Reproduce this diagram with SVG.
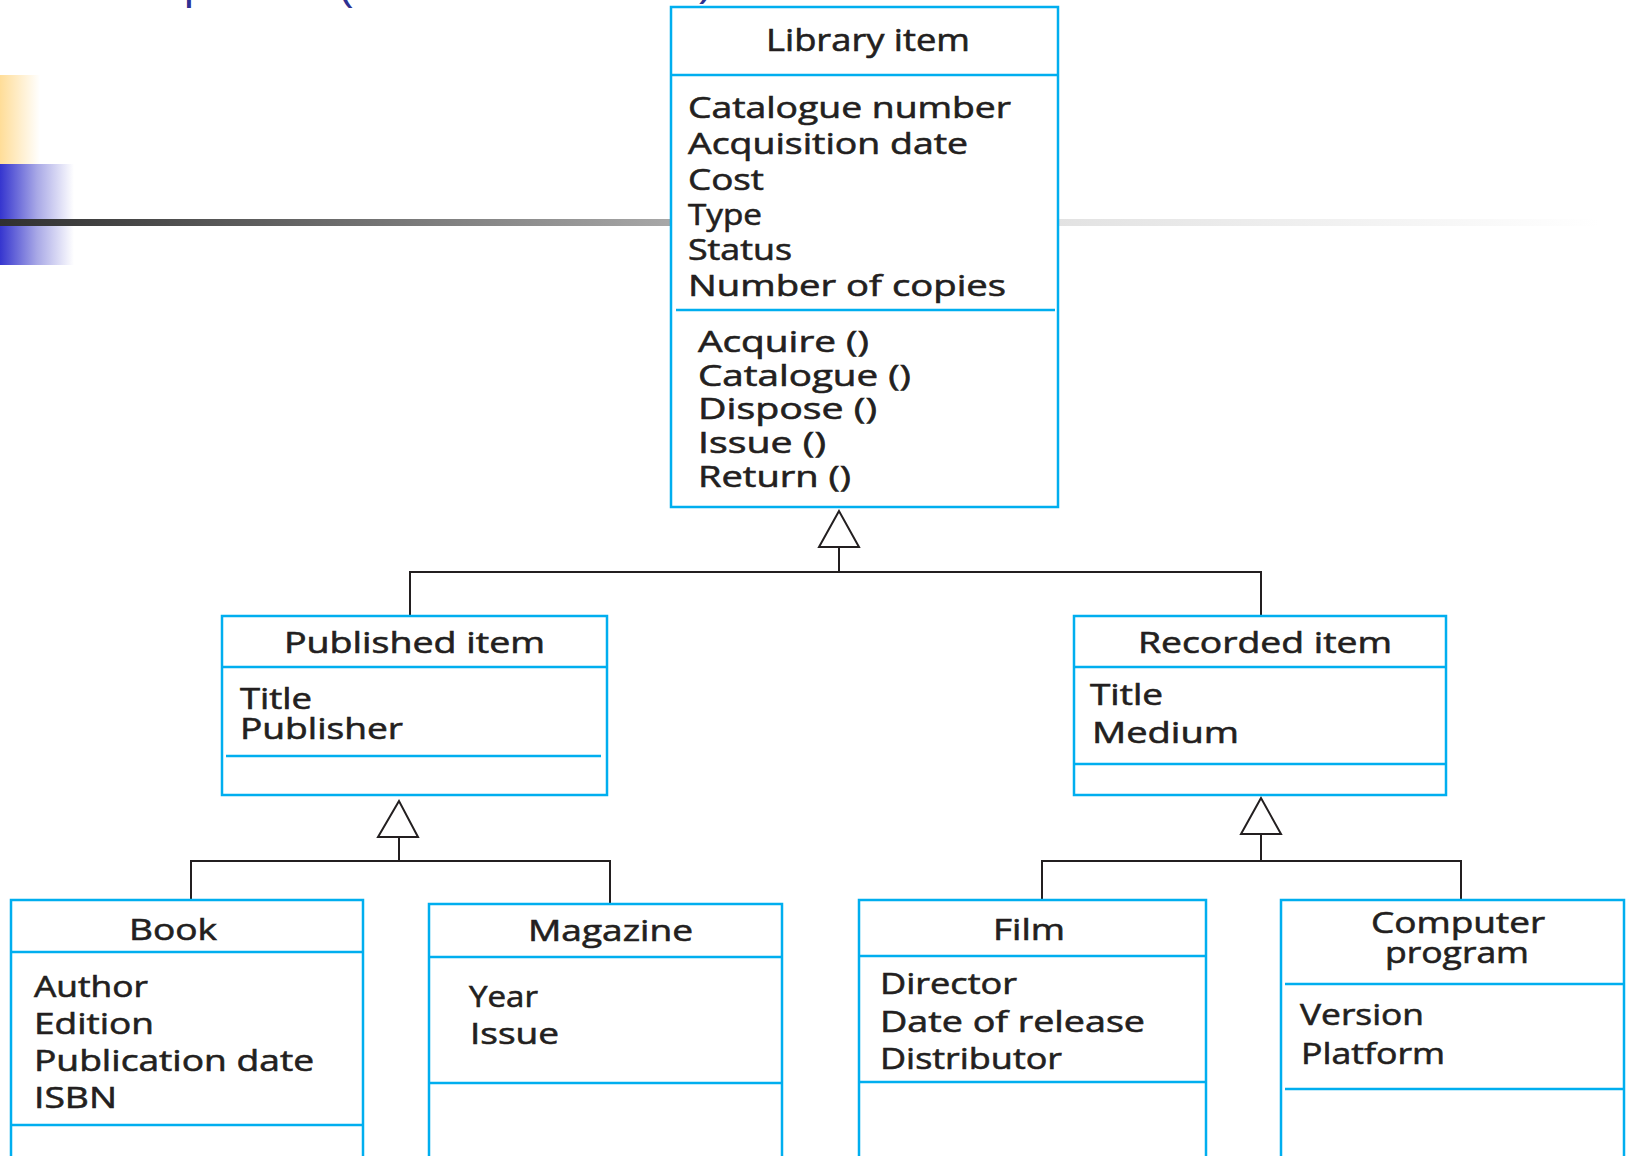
<svg xmlns="http://www.w3.org/2000/svg" width="1629" height="1156" viewBox="0 0 1629 1156">
<defs>
<linearGradient id="gy" x1="0" y1="0" x2="1" y2="0"><stop offset="0" stop-color="#FFDD98"/><stop offset="1" stop-color="#FFFFFF"/></linearGradient>
<linearGradient id="gb" x1="0" y1="0" x2="1" y2="0"><stop offset="0" stop-color="#3535CF"/><stop offset="0.5" stop-color="#A8A8E6"/><stop offset="1" stop-color="#FFFFFF"/></linearGradient>
<linearGradient id="gbar" gradientUnits="userSpaceOnUse" x1="0" y1="0" x2="1600" y2="0"><stop offset="0" stop-color="#303030"/><stop offset="0.42" stop-color="#A8A8A8"/><stop offset="0.66" stop-color="#E2E2E2"/><stop offset="1" stop-color="#FFFFFF"/></linearGradient>
<style>
.box{fill:#fff;stroke:#00AEEF;stroke-width:2.5}
.div{stroke:#00AEEF;stroke-width:2.5;fill:none}
.t{font-family:"Open Sans","Noto Sans","Liberation Sans",sans-serif;font-size:30px;fill:#231F20;stroke:#231F20;stroke-width:0.6}
.h{font-size:31px}
.con{stroke:#231F20;stroke-width:2;fill:none}
.tri{stroke:#231F20;stroke-width:2;fill:#fff}
.ttl{font-family:"Liberation Sans",Arial,sans-serif;font-size:44px;fill:#2E3192}
</style>
</defs>
<rect width="1629" height="1156" fill="#fff"/>
<g id="background">
<rect x="0" y="75" width="40" height="89" fill="url(#gy)"/>
<rect x="0" y="164" width="74" height="101" fill="url(#gb)"/>
<rect x="0" y="219" width="1600" height="7" fill="url(#gbar)"/>
<text class="ttl" x="184" y="-1">p</text>
<text class="ttl" x="338" y="-1">(</text>
<text class="ttl" x="699" y="-5">)</text>
</g>
<g id="connectors">
<polygon class="tri" points="839,511 819,547 859,547"/>
<path class="con" d="M839,547V572M410,616V572H1261V616"/>
<polygon class="tri" points="399,801 378,837 418,837"/>
<path class="con" d="M399,837V861M191,900V861H610V904"/>
<polygon class="tri" points="1261,798 1241,834 1281,834"/>
<path class="con" d="M1261,834V861M1042,900V861H1461V900"/>
</g>
<g id="library-item">
<rect class="box" x="671" y="7" width="387" height="500"/>
<path class="div" d="M671,75H1058M676,310H1055"/>
<text class="t h" x="766" y="51" textLength="204" lengthAdjust="spacingAndGlyphs">Library item</text>
<text class="t" x="688" y="118" textLength="323" lengthAdjust="spacingAndGlyphs">Catalogue number</text>
<text class="t" x="688" y="154" textLength="280" lengthAdjust="spacingAndGlyphs">Acquisition date</text>
<text class="t" x="688" y="190" textLength="76" lengthAdjust="spacingAndGlyphs">Cost</text>
<text class="t" x="688" y="225" textLength="74" lengthAdjust="spacingAndGlyphs">Type</text>
<text class="t" x="688" y="260" textLength="104" lengthAdjust="spacingAndGlyphs">Status</text>
<text class="t" x="688" y="296" textLength="318" lengthAdjust="spacingAndGlyphs">Number of copies</text>
<text class="t" x="698" y="352" textLength="171" lengthAdjust="spacingAndGlyphs">Acquire ()</text>
<text class="t" x="698" y="386" textLength="213" lengthAdjust="spacingAndGlyphs">Catalogue ()</text>
<text class="t" x="698" y="419" textLength="179" lengthAdjust="spacingAndGlyphs">Dispose ()</text>
<text class="t" x="698" y="453" textLength="128" lengthAdjust="spacingAndGlyphs">Issue ()</text>
<text class="t" x="698" y="487" textLength="153" lengthAdjust="spacingAndGlyphs">Return ()</text>
</g>
<g id="published-item">
<rect class="box" x="222" y="616" width="385" height="179"/>
<path class="div" d="M222,667H607M226,756H601"/>
<text class="t" x="284" y="653" textLength="261" lengthAdjust="spacingAndGlyphs">Published item</text>
<text class="t" x="240" y="709" textLength="72" lengthAdjust="spacingAndGlyphs">Title</text>
<text class="t" x="240" y="739" textLength="163" lengthAdjust="spacingAndGlyphs">Publisher</text>
</g>
<g id="recorded-item">
<rect class="box" x="1074" y="616" width="372" height="179"/>
<path class="div" d="M1074,667H1446M1074,764H1446"/>
<text class="t" x="1138" y="653" textLength="254" lengthAdjust="spacingAndGlyphs">Recorded item</text>
<text class="t" x="1090" y="705" textLength="73" lengthAdjust="spacingAndGlyphs">Title</text>
<text class="t" x="1092" y="743" textLength="147" lengthAdjust="spacingAndGlyphs">Medium</text>
</g>
<g id="book">
<rect class="box" x="11" y="900" width="352" height="270"/>
<path class="div" d="M11,952H363M11,1125H363"/>
<text class="t" x="129" y="940" textLength="88" lengthAdjust="spacingAndGlyphs">Book</text>
<text class="t" x="34" y="997" textLength="114" lengthAdjust="spacingAndGlyphs">Author</text>
<text class="t" x="34" y="1034" textLength="120" lengthAdjust="spacingAndGlyphs">Edition</text>
<text class="t" x="34" y="1071" textLength="280" lengthAdjust="spacingAndGlyphs">Publication date</text>
<text class="t" x="34" y="1108" textLength="83" lengthAdjust="spacingAndGlyphs">ISBN</text>
</g>
<g id="magazine">
<rect class="box" x="429" y="904" width="353" height="270"/>
<path class="div" d="M429,957H782M429,1083H782"/>
<text class="t" x="528" y="941" textLength="165" lengthAdjust="spacingAndGlyphs">Magazine</text>
<text class="t" x="469" y="1007" textLength="69" lengthAdjust="spacingAndGlyphs">Year</text>
<text class="t" x="470" y="1044" textLength="89" lengthAdjust="spacingAndGlyphs">Issue</text>
</g>
<g id="film">
<rect class="box" x="859" y="900" width="347" height="270"/>
<path class="div" d="M859,956H1206M859,1082H1206"/>
<text class="t" x="993" y="940" textLength="72" lengthAdjust="spacingAndGlyphs">Film</text>
<text class="t" x="880" y="994" textLength="137" lengthAdjust="spacingAndGlyphs">Director</text>
<text class="t" x="880" y="1032" textLength="265" lengthAdjust="spacingAndGlyphs">Date of release</text>
<text class="t" x="880" y="1069" textLength="182" lengthAdjust="spacingAndGlyphs">Distributor</text>
</g>
<g id="computer-program">
<rect class="box" x="1281" y="900" width="343" height="270"/>
<path class="div" d="M1285,984H1624M1285,1089H1624"/>
<text class="t" x="1371" y="933" textLength="174" lengthAdjust="spacingAndGlyphs">Computer</text>
<text class="t" x="1385" y="963" textLength="144" lengthAdjust="spacingAndGlyphs">program</text>
<text class="t" x="1300" y="1025" textLength="124" lengthAdjust="spacingAndGlyphs">Version</text>
<text class="t" x="1301" y="1064" textLength="144" lengthAdjust="spacingAndGlyphs">Platform</text>
</g>
</svg>
